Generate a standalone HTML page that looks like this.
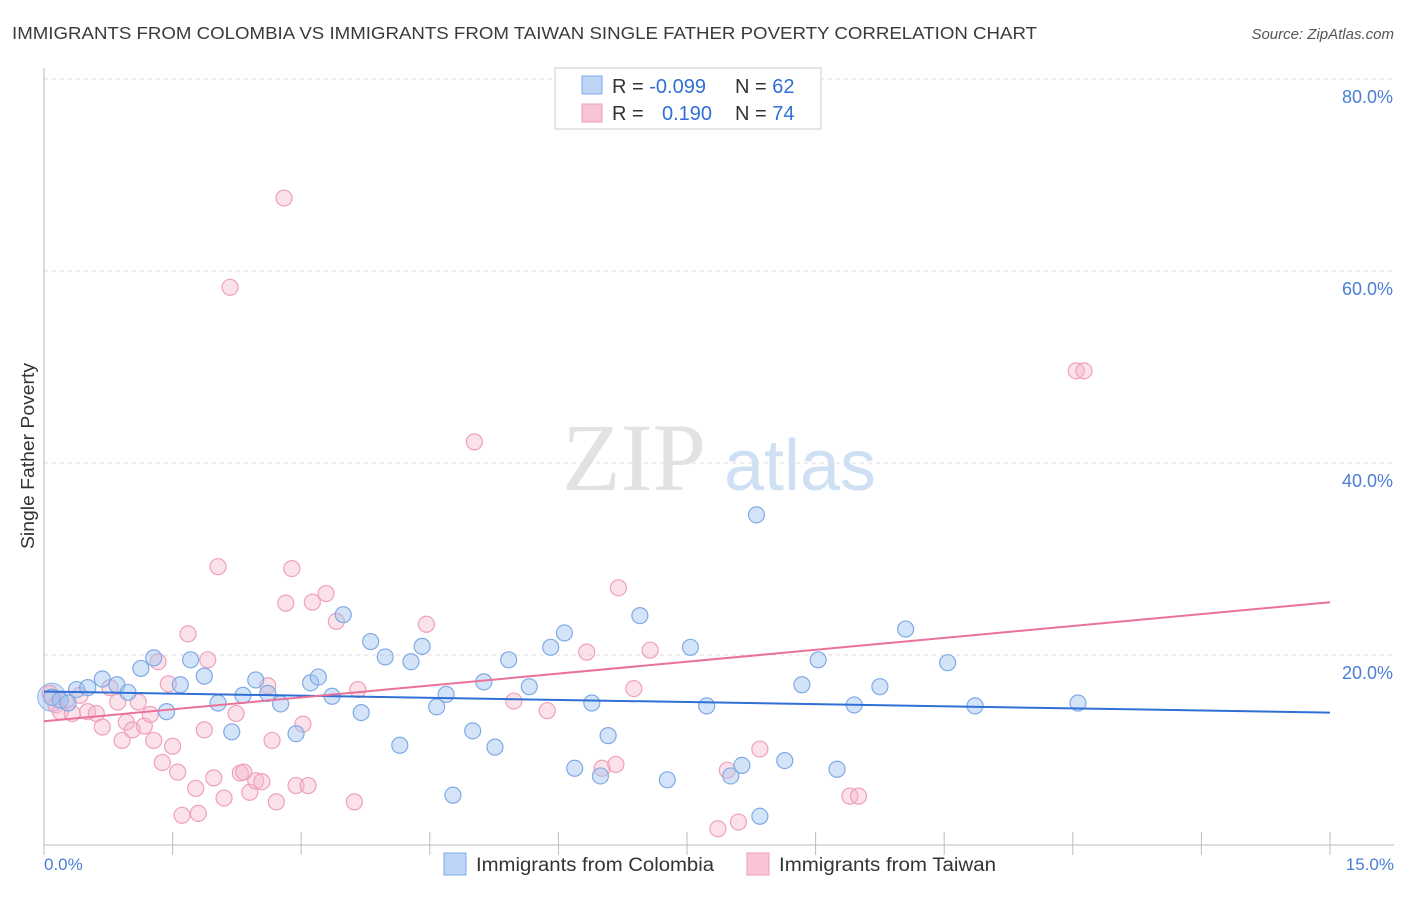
<!DOCTYPE html>
<html><head><meta charset="utf-8"><style>
body{margin:0;background:#fff;font-family:"Liberation Sans",sans-serif;}
</style></head><body>
<svg width="1406" height="892" xmlns="http://www.w3.org/2000/svg" font-family="Liberation Sans, sans-serif">
<text x="12" y="39" font-size="17.5" fill="#3a3a3a" textLength="1025" lengthAdjust="spacingAndGlyphs">IMMIGRANTS FROM COLOMBIA VS IMMIGRANTS FROM TAIWAN SINGLE FATHER POVERTY CORRELATION CHART</text>
<text x="1394" y="39" font-size="15" fill="#555" text-anchor="end" font-style="italic">Source: ZipAtlas.com</text>
<g>
<text x="634" y="490" font-size="96" fill="#e2e2e2" text-anchor="middle" font-family="Liberation Serif, serif">ZIP</text>
<text x="800" y="490" font-size="72" fill="#cfe0f5" text-anchor="middle">atlas</text>
</g>
<g id="grid"></g>
<g id="axes"></g>
<g id="marks"></g>
<g id="trends"></g>
<text transform="translate(34,456) rotate(-90)" font-size="18" fill="#333" text-anchor="middle" textLength="186" lengthAdjust="spacingAndGlyphs">Single Father Poverty</text>
<text x="44" y="870" font-size="17" fill="#4a7fd6">0.0%</text>
<text x="1394" y="870" font-size="17" fill="#4a7fd6" text-anchor="end">15.0%</text>
<g>
<rect x="555" y="68" width="266" height="61" fill="#fff" stroke="#ccc"/>
<rect x="582" y="76" width="20" height="18" fill="#bcd4f5" stroke="#7faae6"/>
<rect x="582" y="104" width="20" height="18" fill="#f9c4d4" stroke="#ef9cb8"/>
<text x="612" y="93" font-size="20" fill="#333">R = <tspan fill="#2f6fd6">-0.099</tspan><tspan x="735">N = </tspan><tspan fill="#2f6fd6">62</tspan></text>
<text x="612" y="120" font-size="20" fill="#333">R = <tspan fill="#2f6fd6" x="662">0.190</tspan><tspan x="735">N = </tspan><tspan fill="#2f6fd6">74</tspan></text>
</g>
<g>
<rect x="444" y="853" width="22" height="22" fill="#bcd4f5" stroke="#7faae6"/>
<text x="476" y="871" font-size="19" fill="#333" textLength="238" lengthAdjust="spacingAndGlyphs">Immigrants from Colombia</text>
<rect x="747" y="853" width="22" height="22" fill="#f9c4d4" stroke="#ef9cb8"/>
<text x="779" y="871" font-size="19" fill="#333" textLength="217" lengthAdjust="spacingAndGlyphs">Immigrants from Taiwan</text>
</g>
</svg>
<script>
const blueX=[0.09,0.19,0.28,0.38,0.51,0.68,0.85,0.98,1.13,1.28,1.43,1.59,1.71,1.87,2.03,2.19,2.32,2.47,2.61,2.76,2.94,3.11,3.20,3.36,3.49,3.70,3.81,3.98,4.15,4.28,4.41,4.58,4.69,4.77,5.00,5.13,5.26,5.42,5.66,5.91,6.07,6.19,6.39,6.49,6.58,6.95,7.27,7.54,7.73,8.01,8.14,8.31,8.35,8.64,8.84,9.03,9.25,9.45,9.75,10.05,10.54,10.86,12.06];
const blueY=[15.6,15.3,15.0,16.4,16.6,17.5,16.9,16.1,18.6,19.7,14.1,16.9,19.5,17.8,15.0,12.0,15.8,17.4,16.0,14.9,11.8,17.1,17.7,15.7,24.2,14.0,21.4,19.8,10.6,19.3,20.9,14.6,15.9,5.4,12.1,17.2,10.4,19.5,16.7,20.8,22.3,8.2,15.0,7.4,11.6,24.1,7.0,20.8,14.7,7.4,8.5,34.6,3.2,9.0,16.9,19.5,8.1,14.8,16.7,22.7,19.2,14.7,15.0];
const pinkX=[0.07,0.14,0.19,0.26,0.33,0.42,0.51,0.61,0.68,0.77,0.86,0.91,0.96,1.03,1.10,1.17,1.24,1.28,1.33,1.38,1.45,1.50,1.56,1.61,1.68,1.77,1.80,1.87,1.91,1.98,2.03,2.10,2.17,2.24,2.29,2.33,2.40,2.47,2.54,2.61,2.66,2.71,2.80,2.82,2.89,2.94,3.08,3.02,3.13,3.29,3.41,3.62,3.66,4.46,5.02,5.48,5.87,6.33,6.51,6.67,6.70,6.88,7.07,7.86,7.97,8.10,8.35,9.40,9.50,12.04,12.13];
const pinkY=[16.0,14.8,14.1,15.3,13.9,15.8,14.1,13.9,12.5,16.6,15.1,11.1,13.0,12.2,15.1,12.6,13.8,11.1,19.3,8.8,17.0,10.5,7.8,3.3,22.2,6.1,3.5,12.2,19.5,7.2,29.2,5.1,58.3,13.9,7.7,7.8,5.7,6.9,6.8,16.8,11.1,4.7,67.6,25.4,29.0,6.4,6.4,12.8,25.5,26.4,23.5,4.7,16.4,23.2,42.2,15.2,14.2,20.3,8.2,8.6,27.0,16.5,20.5,1.9,8.0,2.6,10.2,5.3,5.3,49.6,49.6];
const blueTrend=[16.2,14.0];
const pinkTrend=[13.1,25.5];
const yTicks=[20,40,60,80];
const yTickLabels=["20.0%","40.0%","60.0%","80.0%"];
const xTicks=[0,1.5,3,4.5,6,7.5,9,10.5,12,13.5,15];
const NS="http://www.w3.org/2000/svg";
const sx=v=>44+v*(1330-44)/15;
const sy=v=>847-v*9.6;
function mk(tag,attrs,parent){const e=document.createElementNS(NS,tag);for(const k in attrs)e.setAttribute(k,attrs[k]);parent.appendChild(e);return e;}
const grid=document.getElementById('grid'),axes=document.getElementById('axes'),marks=document.getElementById('marks'),trends=document.getElementById('trends');
yTicks.forEach((t,i)=>{
 const l=mk('line',{x1:44,x2:1394,y1:sy(t),y2:sy(t),stroke:'#ddd','stroke-dasharray':'4,4'},grid);
 
 
 const tx=mk('text',{x:1393,y:sy(t)+24,'font-size':18,fill:'#4a7fd6','text-anchor':'end'},grid);
 tx.textContent=yTickLabels[i];
 
 
});
const ya=mk('line',{x1:44,x2:44,y1:68,y2:845,stroke:'#bbb'},axes);


const xa=mk('line',{x1:44,x2:1394,y1:845,y2:845,stroke:'#bbb'},axes);


xTicks.forEach(t=>{
 const l=mk('line',{x1:sx(t),x2:sx(t),y1:832,y2:855,stroke:'#bbb'},axes);
 
 
});
function pts(X,Y,fill,stroke,name){
 X.forEach((x,i)=>{
  const c=mk('circle',{cx:sx(x),cy:sy(Y[i]),r:8,fill:fill,stroke:stroke,'stroke-width':1.2},marks);
  
  
 });
}
const big=mk('circle',{cx:sx(blueX[0]),cy:sy(blueY[0]),r:14,fill:'rgba(160,196,240,0.45)',stroke:'#8bb4e8'},marks);


pts(pinkX,pinkY,'rgba(246,182,202,0.4)','#f0a0bb','taiwan-point');
pts(blueX,blueY,'rgba(160,196,240,0.45)','#7faae6','colombia-point');
const bt=mk('line',{x1:sx(0),y1:sy(blueTrend[0]),x2:sx(15),y2:sy(blueTrend[1]),stroke:'#2f6fd6','stroke-width':2},trends);


const pt=mk('line',{x1:sx(0),y1:sy(pinkTrend[0]),x2:sx(15),y2:sy(pinkTrend[1]),stroke:'#e8729a','stroke-width':2},trends);


</script>
</body></html>
